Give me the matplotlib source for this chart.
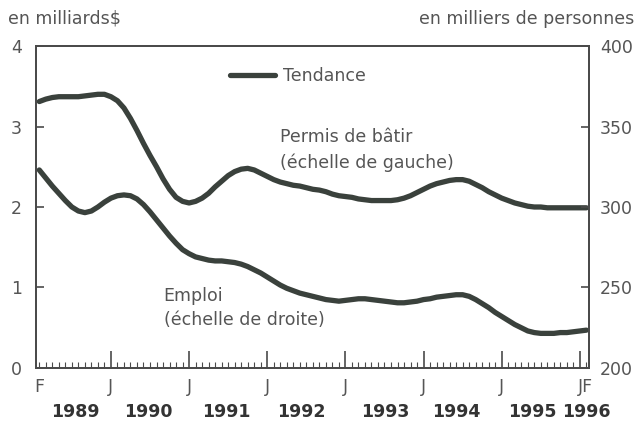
import matplotlib
matplotlib.use("Agg")
import matplotlib.pyplot as plt
import matplotlib.transforms as mtransforms
from matplotlib.ticker import FixedLocator

plt.rcParams['font.family'] = ['DejaVu Sans']

# months counted from Jan 1989 = 0 (Feb 1989 = 1 ... Feb 1996 = 85)
months = list(range(1, 86))

permis = [3.31, 3.34, 3.36, 3.37, 3.37, 3.37, 3.37, 3.38, 3.39, 3.40,
          3.40, 3.37, 3.32, 3.23, 3.10, 2.95, 2.79, 2.64, 2.50, 2.35,
          2.22, 2.12, 2.07, 2.05, 2.07, 2.11, 2.17, 2.25, 2.32, 2.39,
          2.44, 2.47, 2.48, 2.46, 2.42, 2.38, 2.34, 2.31, 2.29, 2.27,
          2.26, 2.24, 2.22, 2.21, 2.19, 2.16, 2.14, 2.13, 2.12, 2.10,
          2.09, 2.08, 2.08, 2.08, 2.08, 2.09, 2.11, 2.14, 2.18, 2.22,
          2.26, 2.29, 2.31, 2.33, 2.34, 2.34, 2.32, 2.28, 2.24, 2.19,
          2.15, 2.11, 2.08, 2.05, 2.03, 2.01, 2.00, 2.00, 1.99, 1.99,
          1.99, 1.99, 1.99, 1.99, 1.99]

emploi = [323, 318, 313, 308.5, 304, 300, 297.5, 296.5, 297.5, 300,
          303, 305.5, 307, 307.5, 307, 305, 301.5, 297, 292, 287,
          282, 277.5, 273.5, 271, 269, 268, 267, 266.5, 266.5, 266,
          265.5, 264.5, 263, 261, 259, 256.5, 254, 251.5, 249.5, 248,
          246.5, 245.5, 244.5, 243.5, 242.5, 242, 241.5, 242, 242.5, 243,
          243, 242.5, 242, 241.5, 241, 240.5, 240.5, 241, 241.5, 242.5,
          243, 244, 244.5, 245, 245.5, 245.5, 244.5, 242.5, 240, 237.5,
          234.5, 232, 229.5, 227, 225, 223, 222, 221.5, 221.5, 221.5,
          222, 222, 222.5, 223, 223.5]

month_letter_pos = [1, 12, 24, 36, 48, 60, 72, 84.8]
month_letters = ['F', 'J', 'J', 'J', 'J', 'J', 'J', 'JF']
year_pos = [6.5, 17.7, 29.7, 41.3, 54.1, 65.0, 76.7, 85.0]
year_labels = ['1989', '1990', '1991', '1992', '1993', '1994', '1995', '1996']

left_ticks = [0, 1, 2, 3, 4]
right_ticks = [200, 250, 300, 350, 400]

line_col = '#3a413c'
text_col = '#555555'
spine_col = '#4a4a4a'
fs = 12.5

fig = plt.figure(figsize=(6.41, 4.24), dpi=100)
ax = fig.add_axes([0.0562, 0.1321, 0.8627, 0.7594])
ax2 = ax.twinx()

ax.plot(months, permis, color=line_col, lw=3.8, solid_capstyle='round',
        solid_joinstyle='round', label='Tendance')
ax2.plot(months, emploi, color=line_col, lw=3.8, solid_capstyle='round',
         solid_joinstyle='round')

ax.set_xlim(0.5, 85.4)
ax.set_ylim(0, 4)
ax2.set_ylim(200, 400)

for a in (ax, ax2):
    for s in a.spines.values():
        s.set_color(spine_col)
        s.set_linewidth(1.3)

ax.set_yticks(left_ticks)
ax.set_yticklabels([str(t) for t in left_ticks])
ax2.set_yticks(right_ticks)
ax2.set_yticklabels([str(t) for t in right_ticks])
ax.tick_params(axis='y', direction='in', length=6, width=1.2, color=spine_col,
               labelsize=fs, labelcolor=text_col, pad=10)
ax2.tick_params(axis='y', direction='in', length=6, width=1.2, color=spine_col,
                labelsize=fs, labelcolor=text_col, pad=8)

ax.xaxis.set_major_locator(FixedLocator(list(range(12, 85, 12))))
ax.xaxis.set_minor_locator(FixedLocator([m for m in range(1, 86) if m % 12 != 0]))
ax.tick_params(axis='x', which='major', direction='in', length=12, width=1.2,
               color=spine_col, labelbottom=False)
ax.tick_params(axis='x', which='minor', direction='in', length=4, width=0.8,
               color=spine_col)

trans = mtransforms.blended_transform_factory(ax.transData, ax.transAxes)
for p, l in zip(month_letter_pos, month_letters):
    ax.text(p, -0.03, l, transform=trans, ha='center', va='top',
            fontsize=fs, color=text_col)
for p, l in zip(year_pos, year_labels):
    ax.text(p, -0.11, l, transform=trans, ha='center', va='top',
            fontsize=fs, color='#333333', fontweight='bold')

fig.text(0.012, 0.956, 'en milliards$', ha='left', va='center',
         fontsize=fs, color=text_col)
fig.text(0.99, 0.956, 'en milliers de personnes', ha='right', va='center',
         fontsize=fs, color=text_col)

ax.text(0.441, 0.717, 'Permis de bâtir', transform=ax.transAxes,
        fontsize=fs, color=text_col, va='center')
ax.text(0.441, 0.637, '(échelle de gauche)', transform=ax.transAxes,
        fontsize=fs, color=text_col, va='center')
ax.text(0.2306, 0.224, 'Emploi', transform=ax.transAxes,
        fontsize=fs, color=text_col, va='center')
ax.text(0.2306, 0.149, '(échelle de droite)', transform=ax.transAxes,
        fontsize=fs, color=text_col, va='center')

leg = ax.legend(loc='center left', bbox_to_anchor=(0.351, 0.908),
                frameon=False, fontsize=fs, handlelength=2.6,
                handletextpad=0.45, borderpad=0, borderaxespad=0)
for t in leg.get_texts():
    t.set_color(text_col)

fig.savefig('out.png', dpi=100)
